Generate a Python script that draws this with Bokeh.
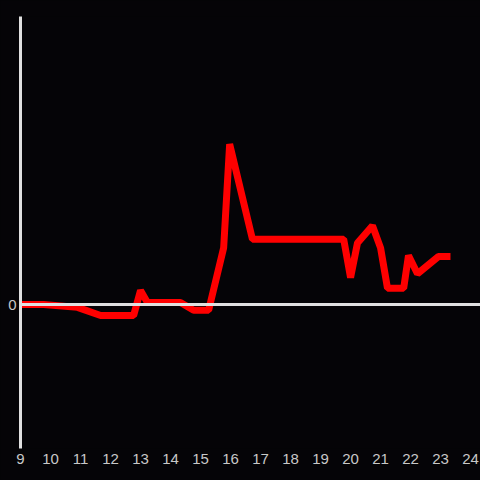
from bokeh.plotting import figure
from bokeh.models import Span, FixedTicker, Range1d, GlobalInlineStyleSheet
from bokeh.embed import file_html
from bokeh.resources import INLINE

hours = [9.0, 9.77, 10.9, 11.67, 12.77, 13.0, 13.23, 14.33, 14.77, 15.27,
         15.77, 15.97, 16.73, 19.77, 20.0, 20.23, 20.73, 21.0, 21.23, 21.77,
         21.93, 22.23, 22.93, 23.33]
values = [0.0, 0.0, -0.03, -0.115, -0.115, 0.146, 0.02, 0.02, -0.06, -0.06,
          0.59, 1.67, 0.68, 0.68, 0.28, 0.64, 0.82, 0.59, 0.17, 0.17,
          0.51, 0.32, 0.50, 0.50]
x_ticks = list(range(9, 25))
y_ticks = [0]

BG = "#050407"
AXIS = "#e0e0e0"
LABEL = "#c8c8c8"

p = figure(width=480, height=480, output_backend="svg", toolbar_location=None,
           x_range=Range1d(9, 24.33), y_range=Range1d(-1.5, 3.0),
           min_border_left=20, min_border_right=0, min_border_top=16,
           min_border_bottom=32)
p.stylesheets = [GlobalInlineStyleSheet(css="html, body { margin: 0; padding: 0; background: #050407; overflow: hidden; }")]
p.background_fill_color = BG
p.border_fill_color = BG
p.outline_line_color = None
p.grid.visible = False

p.add_layout(Span(location=0, dimension="width", line_color=AXIS, line_width=3))

p.line(hours, values, line_color="#ff0000", line_width=7, line_join="bevel")

xa = p.xaxis[0]
xa.ticker = FixedTicker(ticks=x_ticks)
xa.axis_line_color = None
xa.major_tick_line_color = None
xa.minor_tick_line_color = None
xa.major_tick_out = 0
xa.major_label_standoff = 5
xa.major_label_text_color = LABEL
xa.major_label_text_font = "Liberation Sans"
xa.major_label_text_font_size = "15px"

ya = p.yaxis[0]
ya.ticker = FixedTicker(ticks=y_ticks)
ya.axis_line_color = AXIS
ya.axis_line_width = 3
ya.major_tick_line_color = None
ya.minor_tick_line_color = None
ya.major_tick_out = 0
ya.major_label_standoff = 4
ya.major_label_text_color = LABEL
ya.major_label_text_font = "Liberation Sans"
ya.major_label_text_font_size = "15px"

open("out.html", "w").write(file_html(p, INLINE))
